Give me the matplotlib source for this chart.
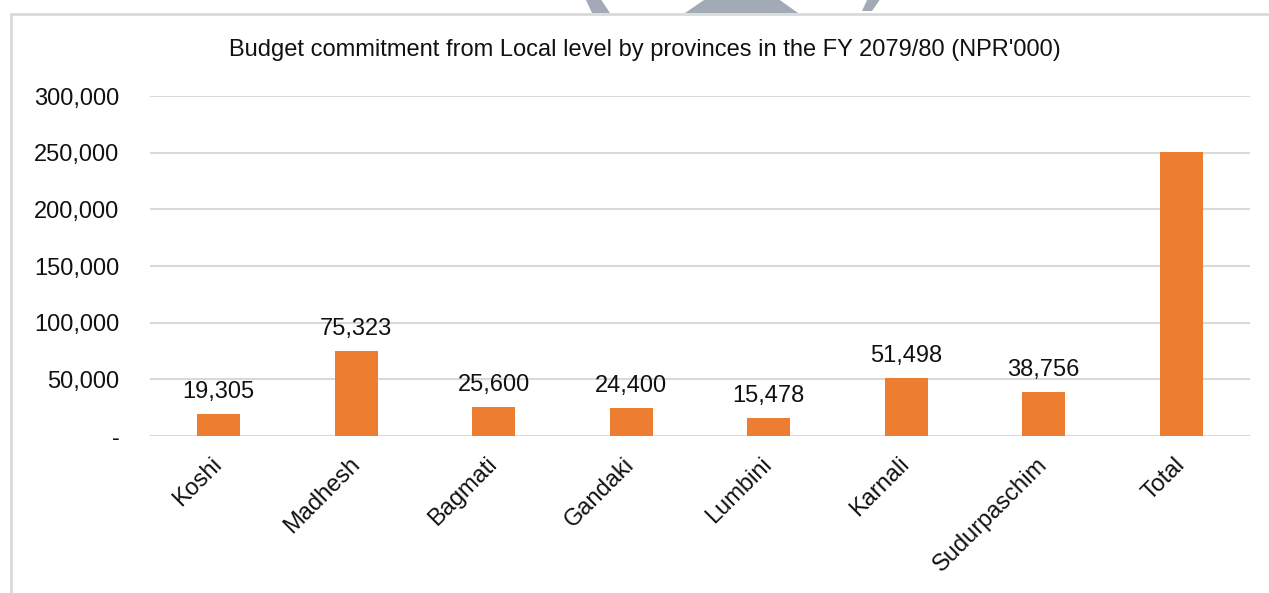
import matplotlib
matplotlib.use('Agg')
import matplotlib.pyplot as plt
from matplotlib.patches import Polygon, Rectangle
from matplotlib.ticker import FuncFormatter

provinces = ["Koshi", "Madhesh", "Bagmati", "Gandaki", "Lumbini", "Karnali", "Sudurpaschim", "Total"]
budget = [19305, 75323, 25600, 24400, 15478, 51498, 38756, 250360]
show_label = [True, True, True, True, True, True, True, False]
yticks = [0, 50000, 100000, 150000, 200000, 250000, 300000]

W, H = 1269, 593
plt.rcParams['font.family'] = ['Liberation Sans', 'DejaVu Sans']

fig = plt.figure(figsize=(W / 100, H / 100), dpi=100)
ax = fig.add_axes([150 / W, 1 - 436 / H, 1100 / W, 340 / H])

x = range(len(provinces))
ax.bar(x, budget, width=0.31, color='#ED7D31', zorder=3)
for i, v in enumerate(budget):
    if show_label[i]:
        ax.annotate(f"{v:,}", (i, v), xytext=(0, 8), textcoords='offset points',
                    ha='center', va='bottom', fontsize=17, color='#111111')

ax.set_xlim(-0.5, len(provinces) - 0.5)
ax.set_ylim(0, 300000)
ax.set_yticks(yticks)
ax.yaxis.set_major_formatter(FuncFormatter(lambda v, p: '-' if v == 0 else f"{int(v):,}"))
ax.grid(axis='y', color='#D9D9D9', linewidth=1.5, zorder=0)
ax.tick_params(axis='y', length=0, pad=22, labelsize=17, labelcolor='#111111')
ax.set_xticks(list(x))
ax.set_xticklabels(provinces, rotation=45, ha='right', va='center',
                   rotation_mode='anchor', fontsize=17, color='#111111')
ax.tick_params(axis='x', length=0, pad=18)
for s in ax.spines.values():
    s.set_visible(False)

fig.text(645 / W, 1 - 50 / H,
         "Budget commitment from Local level by provinces in the FY 2079/80 (NPR'000)",
         ha='center', va='center', fontsize=17, color='#111111')

# chart frame
fig.add_artist(Rectangle((11 / W, -0.1), 1.2, 1 - 14 / H + 0.1, transform=fig.transFigure,
                         fill=False, edgecolor='#D9D9D9', linewidth=2))

# grey shapes peeking in at the top edge
def px(pts):
    return [(a / W, 1 - b / H) for a, b in pts]

for pts in ([(585, -2), (600, -2), (610, 13), (592, 13)],
            [(685, 13), (707, -2), (777, -2), (798, 13)],
            [(868, -2), (881, -2), (872, 11), (862, 11)]):
    fig.add_artist(Polygon(px(pts), closed=True, transform=fig.transFigure,
                           facecolor='#A2AAB6', edgecolor='none'))

fig.savefig('out.png', dpi=100)
